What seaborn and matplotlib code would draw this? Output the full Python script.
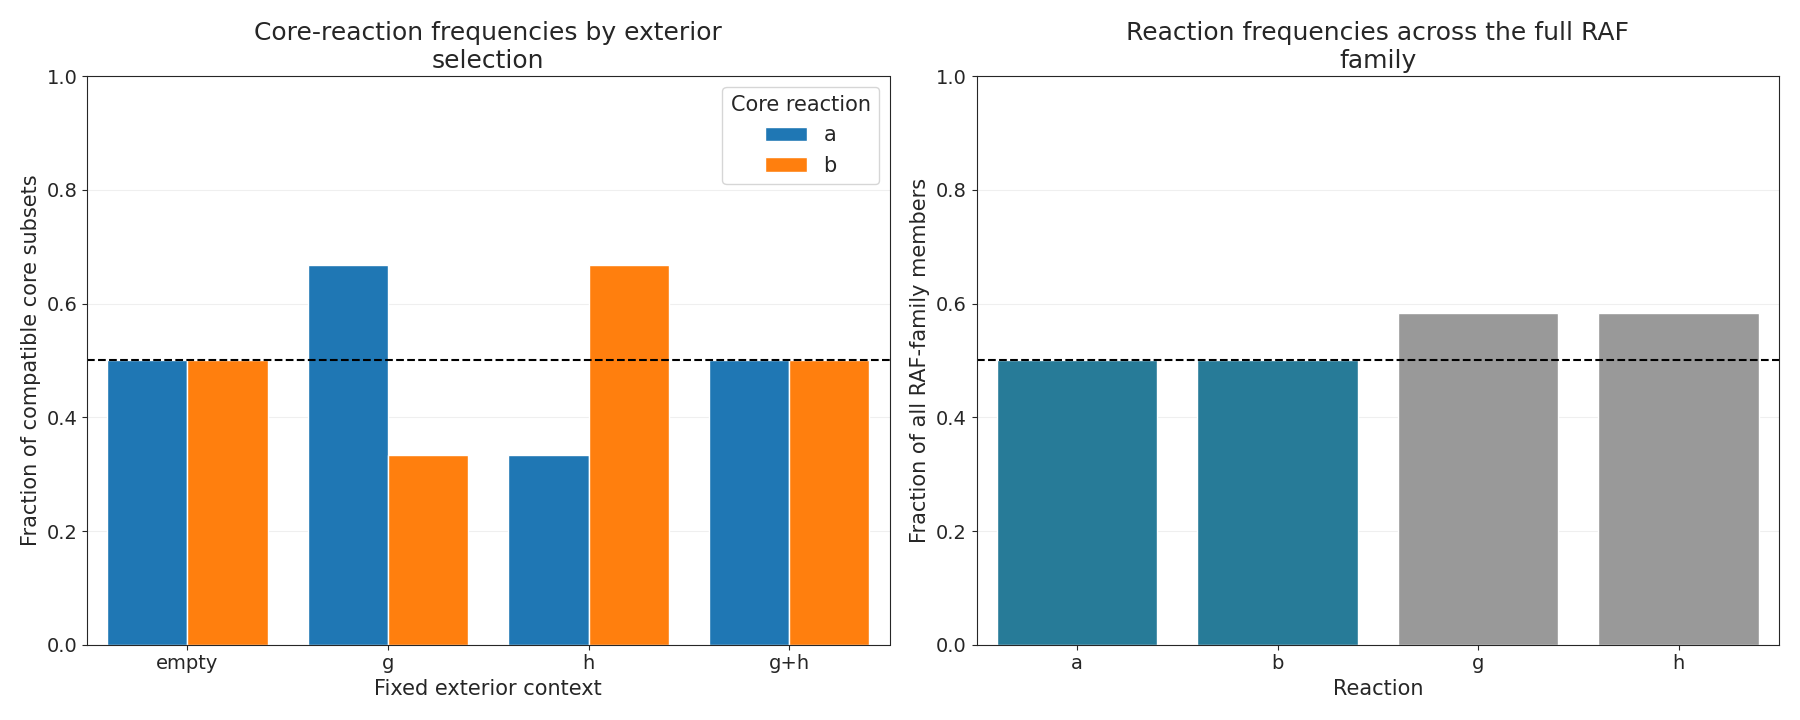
import pandas as pd
import matplotlib
matplotlib.use("Agg")
import matplotlib.pyplot as plt
import seaborn as sns

# data
contexts = ["empty", "g", "h", "g+h"]
freq_a = [0.5, 0.667, 0.333, 0.5]
freq_b = [0.5, 0.333, 0.667, 0.5]
reactions = ["a", "b", "g", "h"]
family_freq = [0.5, 0.5, 0.583, 0.583]

sns.set_style("ticks")
plt.rcParams['font.family'] = ['DejaVu Sans']
plt.rcParams['font.size'] = 14

left_df = pd.DataFrame({
    "context": contexts * 2,
    "frac": freq_a + freq_b,
    "Core reaction": ["a"] * 4 + ["b"] * 4,
})
right_df = pd.DataFrame({"reaction": reactions, "frac": family_freq})

fig, (ax1, ax2) = plt.subplots(1, 2, figsize=(18, 7.2))

sns.barplot(data=left_df, x="context", y="frac", hue="Core reaction",
            palette=["#1f77b4", "#ff7f0e"], saturation=1, width=0.8, ax=ax1)
ax1.axhline(0.5, color="black", ls="--", lw=1.5)
ax1.set_ylim(0, 1)
ax1.set_title("Core-reaction frequencies by exterior\nselection", fontsize=18)
ax1.set_xlabel("Fixed exterior context", fontsize=15)
ax1.set_ylabel("Fraction of compatible core subsets", fontsize=15)
ax1.grid(axis="y", alpha=0.3)
ax1.set_axisbelow(True)
leg = ax1.legend(title="Core reaction", fontsize=15, title_fontsize=15, loc="upper right")

sns.barplot(data=right_df, x="reaction", y="frac", hue="reaction",
            palette=["#277b98", "#277b98", "#999999", "#999999"],
            saturation=1, width=0.8, legend=False, ax=ax2)
ax2.axhline(0.5, color="black", ls="--", lw=1.5)
ax2.set_ylim(0, 1)
ax2.set_title("Reaction frequencies across the full RAF\nfamily", fontsize=18)
ax2.set_xlabel("Reaction", fontsize=15)
ax2.set_ylabel("Fraction of all RAF-family members", fontsize=15)
ax2.grid(axis="y", alpha=0.3)
ax2.set_axisbelow(True)

for ax in (ax1, ax2):
    ax.tick_params(labelsize=14)
    for s in ax.spines.values():
        s.set_visible(True)

plt.tight_layout()
plt.savefig("out.png", dpi=100)
